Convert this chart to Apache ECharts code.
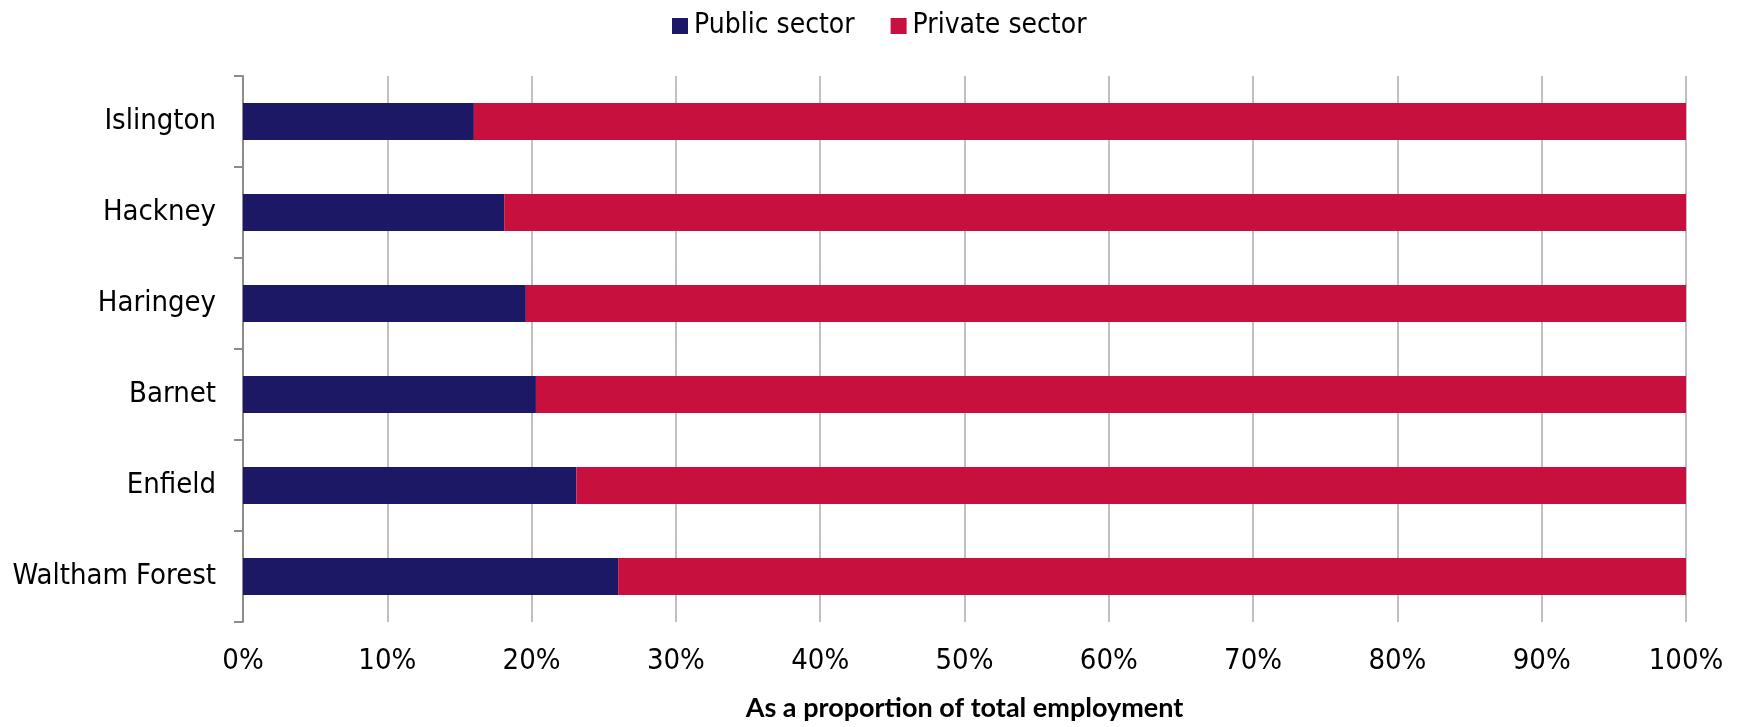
<!DOCTYPE html>
<html>
<head>
<meta charset="utf-8">
<script src="https://cdn.jsdelivr.net/npm/echarts@6/dist/echarts.min.js"></script>
<style>
  html, body { margin: 0; padding: 0; background: #fff; }
  #chart { width: 1738px; height: 727px; }
</style>
</head>
<body>
<div id="chart"></div>
<script>
// Boroughs, top to bottom
const boroughs = ['Islington', 'Hackney', 'Haringey', 'Barnet', 'Enfield', 'Waltham Forest'];
// Share of total employment (%)
const publicSector = [16.0, 18.1, 19.6, 20.3, 23.1, 26.0];
const privateSector = [84.0, 81.9, 80.4, 79.7, 76.9, 74.0];
// Axis tick values (%)
const xTicks = [0, 10, 20, 30, 40, 50, 60, 70, 80, 90, 100];

const FONT = '"DejaVu Sans Condensed", "DejaVu Sans", sans-serif';
const chart = echarts.init(document.getElementById('chart'), null, { renderer: 'canvas' });

chart.setOption({
  animation: false,
  backgroundColor: '#ffffff',
  color: ['#1C1866', '#C8103F'],
  legend: {
    top: 7,
    left: 667,
    itemWidth: 16,
    itemHeight: 16,
    itemGap: 36,
    icon: 'rect',
    textStyle: { fontFamily: FONT, fontSize: 28, color: '#000', lineHeight: 28, padding: [0, 0, 0, 1] },
    data: ['Public sector', 'Private sector']
  },
  grid: { left: 243, right: 52, top: 76, bottom: 97, containLabel: false },
  xAxis: {
    type: 'value',
    min: xTicks[0],
    max: xTicks[xTicks.length - 1],
    interval: xTicks[1] - xTicks[0],
    name: 'As a proportion of total employment',
    nameLocation: 'middle',
    nameGap: 73,
    nameTextStyle: { fontFamily: 'Lato, "Open Sans", sans-serif', fontWeight: 'bold', fontSize: 27, color: '#000' },
    axisLine: { show: false },
    axisTick: { show: false },
    axisLabel: { fontFamily: FONT, fontSize: 29, color: '#000', margin: 25, formatter: v => v + '%' },
    splitLine: { show: true, lineStyle: { color: '#ababab', width: 1.5 } }
  },
  yAxis: {
    type: 'category',
    inverse: true,
    data: boroughs,
    axisLine: { show: true, lineStyle: { color: '#8c8c8c', width: 2 } },
    axisTick: { show: true, inside: false, length: 9, lineStyle: { color: '#8c8c8c', width: 2 } },
    axisLabel: { fontFamily: FONT, fontSize: 29, color: '#000', margin: 27 },
    splitLine: { show: false }
  },
  series: [
    {
      name: 'Public sector',
      type: 'bar',
      stack: 'total',
      barWidth: '40.5%',
      data: publicSector
    },
    {
      name: 'Private sector',
      type: 'bar',
      stack: 'total',
      barWidth: '40.5%',
      data: privateSector
    }
  ]
});
</script>
</body>
</html>
